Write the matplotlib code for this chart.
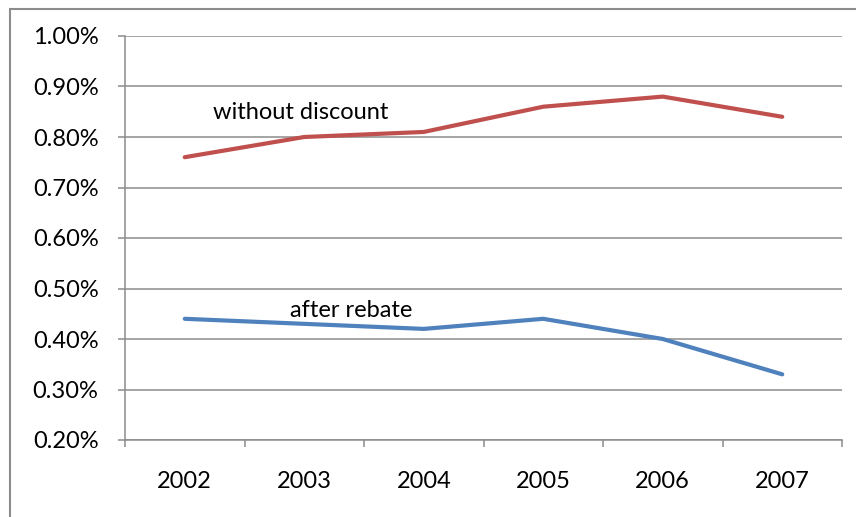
import matplotlib.pyplot as plt
from matplotlib.patches import Rectangle
from matplotlib.ticker import FixedLocator, NullFormatter, FuncFormatter

plt.rcParams['font.family'] = ['Lato', 'DejaVu Sans']

years = ['2002', '2003', '2004', '2005', '2006', '2007']
without_discount = [0.76, 0.80, 0.81, 0.86, 0.88, 0.84]
after_rebate = [0.44, 0.43, 0.42, 0.44, 0.40, 0.33]

RED = '#C0504D'
BLUE = '#4F81BD'
GRID = '#8C8C8C'
FS = 17

fig = plt.figure(figsize=(8.56, 5.17), dpi=100)
ax = fig.add_axes([125 / 856, 1 - 440 / 517, (842 - 125) / 856, (440 - 36) / 517])

x = list(range(len(years)))
ax.plot(x, without_discount, color=RED, lw=3.0, solid_capstyle='round', zorder=3)
ax.plot(x, after_rebate, color=BLUE, lw=3.0, solid_capstyle='round', zorder=3)

ax.set_xlim(-0.5, len(years) - 0.5)
ax.set_ylim(0.20, 1.00)
ax.set_yticks([0.2 + 0.1 * i for i in range(9)])
ax.yaxis.set_major_formatter(FuncFormatter(lambda v, _: f'{v:.2f}%'))
ax.grid(axis='y', color=GRID, lw=1.1)
ax.set_axisbelow(True)

ax.set_xticks(x)
ax.set_xticklabels(years)
ax.xaxis.set_minor_locator(FixedLocator([i - 0.5 for i in range(len(years) + 1)]))
ax.xaxis.set_minor_formatter(NullFormatter())
ax.tick_params(axis='x', which='major', length=0, pad=22, labelsize=FS)
ax.tick_params(axis='x', which='minor', length=5, width=1.1, color=GRID, direction='out')
ax.tick_params(axis='y', length=5, width=1.1, color=GRID, pad=14, labelsize=FS)

for side in ['top', 'right']:
    ax.spines[side].set_visible(False)
for side in ['left', 'bottom']:
    ax.spines[side].set_color(GRID)
    ax.spines[side].set_linewidth(1.1)

ax.text(0.236, 0.849, 'without discount', fontsize=FS, va='center', ha='left')
ax.text(0.88, 0.456, 'after rebate', fontsize=FS, va='center', ha='left')

# chart frame
fig.patches.append(Rectangle((10 / 856, -0.1), 1.2, 1 - 9 / 517 + 0.1,
                             transform=fig.transFigure, fill=False,
                             edgecolor='#8C8C8C', lw=1.5))

fig.savefig('out.png', dpi=100)
